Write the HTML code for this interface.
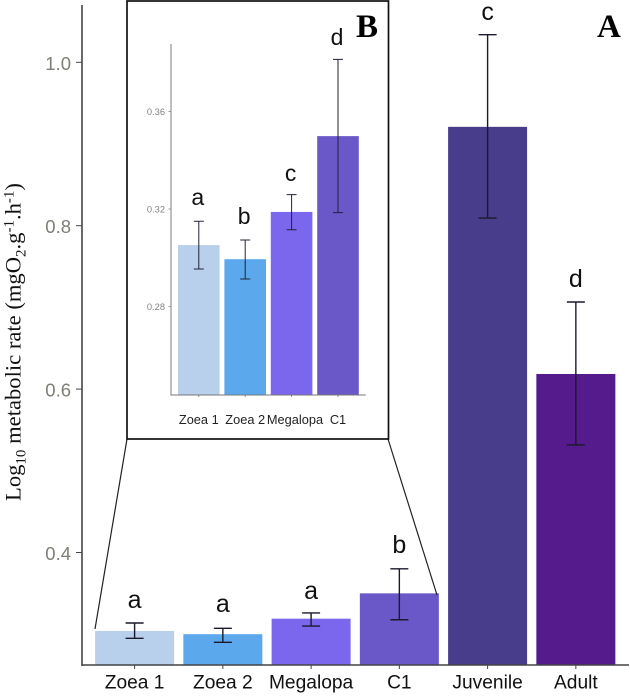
<!DOCTYPE html>
<html>
<head>
<meta charset="utf-8">
<style>
html,body{margin:0;padding:0;background:#fff}
svg{display:block}
text{font-family:"Liberation Sans",sans-serif}
.serif{font-family:"Liberation Serif",serif}
</style>
</head>
<body>
<svg id="chart" xmlns="http://www.w3.org/2000/svg" width="630" height="697" viewBox="0 0 630 697"></svg>
<script>
// Main chart data
const mainCategories = ['Zoea 1','Zoea 2','Megalopa','C1','Juvenile','Adult'];
const mainValues = [0.304,0.300,0.319,0.350,0.921,0.6185];
const mainErrHigh = [0.3137,0.3072,0.326,0.380,1.0338,0.7066];
const mainErrLow = [0.295,0.2901,0.310,0.3177,0.8094,0.5316];
const mainLetters = ['a','a','a','b','c','d'];
const mainLetterValues = [0.332,0.3273,0.3431,0.3994,1.0518,0.725];
const mainTicks = [0.4,0.6,0.8,1.0];
const mainTickLabels = ['0.4','0.6','0.8','1.0'];
// Inset chart data
const insetCategories = ['Zoea 1','Zoea 2','Megalopa','C1'];
const insetValues = [0.3052,0.2994,0.3188,0.3499];
const insetErrHigh = [0.3150,0.3073,0.3259,0.3814];
const insetErrLow = [0.2954,0.2913,0.3115,0.3185];
const insetLetters = ['a','b','c','d'];
const insetLetterValues = [0.3216,0.3138,0.3315,0.3873];
const insetTicks = [0.28,0.32,0.36];
const insetTickLabels = ['0.28','0.32','0.36'];
// Colours
const barColors = ['#b8d0eb','#5ba8ec','#7a67ee','#6a58c8','#483d8b','#551a8b'];

const svg = document.getElementById('chart');
const NS = 'http://www.w3.org/2000/svg';
function mk(tag, attrs, text){
  const el = document.createElementNS(NS, tag);
  for (const k in attrs) el.setAttribute(k, attrs[k]);
  if (text !== undefined) el.textContent = text;
  svg.appendChild(el);
  return el;
}
// axis functions
const mainY = v => 62.3 + (1 - v) * 817;
const mainX = i => 134.6 + i * 88.25;
const mainBaseY = 665;
const insetY = v => 209 + (0.32 - v) * 2437.5;
const insetX = i => 198.8 + i * 46.4;
const insetBaseY = 395;

// main bars
mainCategories.forEach((c,i)=>{
  const x = mainX(i), y = mainY(mainValues[i]);
  const r = mk('rect',{x:x-39.5,y:y,width:79,height:mainBaseY-y,fill:barColors[i]});
  
  
});
// main error bars
mainCategories.forEach((c,i)=>{
  const x = mainX(i), hi = mainY(mainErrHigh[i]), lo = mainY(mainErrLow[i]);
  const g = mk('path',{d:`M${x-9} ${hi}H${x+9}M${x} ${hi}V${lo}M${x-9} ${lo}H${x+9}`,stroke:'#1a1a2a','stroke-width':1.4,fill:'none'});
  
  
  const t = mk('text',{x:x,y:mainY(mainLetterValues[i]),'text-anchor':'middle','font-size':25,fill:'#111'},mainLetters[i]);
  
  
  const tk = mk('line',{x1:x,x2:x,y1:mainBaseY,y2:mainBaseY+4,stroke:'#444','stroke-width':1});
  
  
  const l = mk('text',{x:x,y:688.5,'text-anchor':'middle','font-size':19.2,fill:'#111'},c);
  
  
});
// main axes
const yAxis = mk('line',{x1:82,x2:82,y1:5,y2:mainBaseY+1,stroke:'#444','stroke-width':1.6});


const xAxis = mk('line',{x1:82,x2:629,y1:mainBaseY,y2:mainBaseY,stroke:'#444','stroke-width':1.6});


mainTicks.forEach((v,i)=>{
  const tk = mk('line',{x1:76,x2:82,y1:mainY(v),y2:mainY(v),stroke:'#444','stroke-width':1});
  
  
  const l = mk('text',{x:71,y:mainY(v)+7.5,'text-anchor':'end','font-size':18.5,fill:'#7f7f76'},mainTickLabels[i]);
  
  
});
// connectors
const conL = mk('line',{x1:127,y1:439,x2:95,y2:629,stroke:'#222','stroke-width':1.2});


const conR = mk('line',{x1:388,y1:439,x2:437,y2:595,stroke:'#222','stroke-width':1.2});


// inset frame
const frame = mk('rect',{x:127,y:1,width:261.5,height:438,fill:'#fff',stroke:'#111','stroke-width':1.7});


// inset bars
insetCategories.forEach((c,i)=>{
  const x = insetX(i), y = insetY(insetValues[i]);
  const r = mk('rect',{x:x-20.8,y:y,width:41.6,height:insetBaseY-y,fill:barColors[i]});
  
  
});
insetCategories.forEach((c,i)=>{
  const x = insetX(i), hi = insetY(insetErrHigh[i]), lo = insetY(insetErrLow[i]);
  const g = mk('path',{d:`M${x-5} ${hi}H${x+5}M${x} ${hi}V${lo}M${x-5} ${lo}H${x+5}`,stroke:'#22223a','stroke-width':1,fill:'none'});
  
  
  const t = mk('text',{x:x-1,y:insetY(insetLetterValues[i]),'text-anchor':'middle','font-size':23,fill:'#111'},insetLetters[i]);
  
  
  const tk = mk('line',{x1:x,x2:x,y1:insetBaseY,y2:insetBaseY+2,stroke:'#777','stroke-width':0.8});
  
  
  const l = mk('text',{x:x+(c==='Megalopa'?3.4:0),y:424,'text-anchor':'middle','font-size':12.8,fill:'#222'},c);
  
  
});
const iy = mk('line',{x1:171,x2:171,y1:44,y2:insetBaseY+0.5,stroke:'#888','stroke-width':1.1});


const ix = mk('line',{x1:171,x2:365.7,y1:insetBaseY,y2:insetBaseY,stroke:'#777','stroke-width':1.1});


insetTicks.forEach((v,i)=>{
  const tk = mk('line',{x1:168.5,x2:171,y1:insetY(v),y2:insetY(v),stroke:'#888','stroke-width':0.8});
  
  
  const l = mk('text',{x:165,y:insetY(v)+3.3,'text-anchor':'end','font-size':9.3,fill:'#808080'},insetTickLabels[i]);
  
  
});
</script>
<script>
(function(){
  const s = document.getElementById('chart');
  const NS2 = 'http://www.w3.org/2000/svg';
  const lab = document.createElementNS(NS2,'text');
  
  
  lab.setAttribute('class','serif');
  lab.setAttribute('transform','translate(20.5,342) rotate(-90)');
  lab.setAttribute('text-anchor','middle');
  lab.setAttribute('font-size','22.6');
  lab.setAttribute('fill','#111');
  lab.innerHTML = 'Log<tspan font-size="15" dy="5">10</tspan><tspan dy="-5"> metabolic rate (mgO</tspan><tspan font-size="15" dy="5">2</tspan><tspan dy="-5">.g</tspan><tspan font-size="15" dy="-7">-1</tspan><tspan dy="7">.h</tspan><tspan font-size="15" dy="-7">-1</tspan><tspan dy="7">)</tspan>';
  s.appendChild(lab);
  const a = document.createElementNS(NS2,'text');
  
  
  a.setAttribute('class','serif');
  a.setAttribute('x','597');
  a.setAttribute('y','37');
  a.setAttribute('font-size','33');
  a.setAttribute('font-weight','700');
  a.setAttribute('fill','#000');
  a.textContent = 'A';
  s.appendChild(a);
  const b = document.createElementNS(NS2,'text');
  
  
  b.setAttribute('class','serif');
  b.setAttribute('x','356');
  b.setAttribute('y','37');
  b.setAttribute('font-size','33');
  b.setAttribute('font-weight','700');
  b.setAttribute('fill','#000');
  b.textContent = 'B';
  s.appendChild(b);
})();
</script>
</body>
</html>
